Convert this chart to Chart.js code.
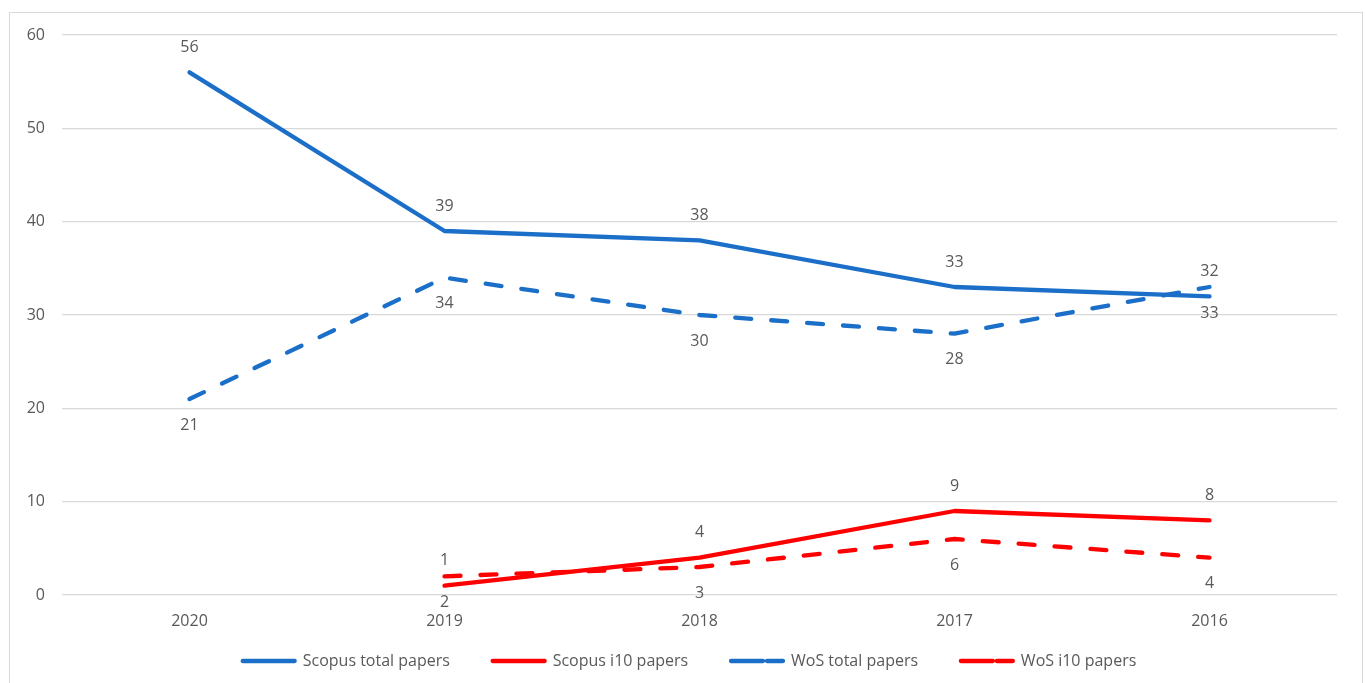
<!DOCTYPE html>
<html>
<head>
<meta charset="utf-8">
<script src="https://cdn.jsdelivr.net/npm/chart.js@4.4.1/dist/chart.umd.min.js"></script>
<style>
  html, body { margin: 0; padding: 0; background: #fff; overflow: hidden; }
  #frame { position: absolute; left: 9px; top: 12px; width: 1352px; height: 700px; border: 1px solid #d9d9d9; }
  #wrap { position: absolute; left: 0; top: 0; width: 1365px; height: 683px; }
</style>
</head>
<body>
<div id="frame"></div>
<div id="wrap"><canvas id="myChart"></canvas></div>
<script>
// data
var years = ['2020', '2019', '2018', '2017', '2016'];
var scopusTotal = [56, 39, 38, 33, 32];
var scopusI10 = [null, 1, 4, 9, 8];
var wosTotal = [21, 34, 30, 28, 33];
var wosI10 = [null, 2, 3, 6, 4];
var yTicks = [0, 10, 20, 30, 40, 50, 60];

var BLUE = '#1b6fc8';
var RED = '#ff0000';
var GREY = '#595959';
var FONT = "'Open Sans', 'Liberation Sans', sans-serif";
var FSIZE = 16;

// simple value labels: Scopus above the point, WoS below
var valueLabels = {
    id: 'valueLabels',
    afterDatasetsDraw: function (chart) {
        var ctx = chart.ctx;
        ctx.save();
        ctx.font = FSIZE + 'px ' + FONT;
        ctx.fillStyle = GREY;
        ctx.textAlign = 'center';
        ctx.textBaseline = 'middle';
        chart.data.datasets.forEach(function (ds, i) {
            var meta = chart.getDatasetMeta(i);
            meta.data.forEach(function (pt, j) {
                var v = ds.data[j];
                if (v === null) return;
                var dy = ds.labelSide === 'above' ? -25 : 26;
                ctx.fillText(String(v), pt.x, pt.y + dy);
            });
        });
        ctx.restore();
    }
};

var ctx1 = document.getElementById('myChart').getContext('2d');
var myChart = new Chart(ctx1, {
    type: 'line',
    data: {
        labels: years,
        datasets: [{
            label: 'Scopus total papers',
            data: scopusTotal,
            borderColor: BLUE,
            backgroundColor: BLUE,
            labelSide: 'above'
        }, {
            label: 'Scopus i10 papers',
            data: scopusI10,
            borderColor: RED,
            backgroundColor: RED,
            labelSide: 'above'
        }, {
            label: 'WoS total papers',
            data: wosTotal,
            borderColor: BLUE,
            backgroundColor: 'rgba(0,0,0,0)',
            borderDash: [16, 20],
            labelSide: 'below'
        }, {
            label: 'WoS i10 papers',
            data: wosI10,
            borderColor: RED,
            backgroundColor: 'rgba(0,0,0,0)',
            borderDash: [16, 20],
            labelSide: 'below'
        }]
    },
    options: {
        responsive: true,
        maintainAspectRatio: false,
        animation: false,
        layout: { padding: { top: 35, right: 0, bottom: 4, left: 14 } },
        elements: {
            line: { borderWidth: 4.3, tension: 0, borderCapStyle: 'round', borderJoinStyle: 'round', fill: false },
            point: { radius: 0, hoverRadius: 0 }
        },
        plugins: {
            tooltip: { enabled: false },
            legend: {
                position: 'bottom',
                labels: {
                    color: GREY,
                    font: { family: FONT, size: FSIZE },
                    boxWidth: 52,
                    boxHeight: 0,
                    padding: 22,
                    // widen the gap between entries a bit (legend padding also sets its height)
                    generateLabels: function (chart) {
                        var items = Chart.defaults.plugins.legend.labels.generateLabels(chart);
                        items.forEach(function (it, i) {
                            if (i < items.length - 1) it.text = it.text + '     ';
                        });
                        return items;
                    }
                }
            }
        },
        scales: {
            x: {
                offset: true,
                grid: { display: false, drawTicks: false },
                border: { display: false },
                afterFit: function (s) { s.height = 36; },
                ticks: { color: GREY, font: { family: FONT, size: FSIZE }, padding: 17 }
            },
            y: {
                min: 0,
                max: 60,
                afterBuildTicks: function (s) { s.ticks = yTicks.map(function (v) { return { value: v }; }); },
                afterFit: function (s) { s.width = 48; },
                grid: { color: '#d9d9d9', lineWidth: 1.3, drawTicks: false },
                border: { display: false },
                ticks: { color: GREY, font: { family: FONT, size: FSIZE }, padding: 17 }
            },
            // empty right-hand margin so the plot ends where the reference does
            yRight: {
                position: 'right',
                grid: { display: false, drawTicks: false },
                border: { display: false },
                ticks: { display: false },
                afterFit: function (s) { s.width = 28; }
            }
        }
    },
    plugins: [valueLabels]
});
</script>
</body>
</html>
